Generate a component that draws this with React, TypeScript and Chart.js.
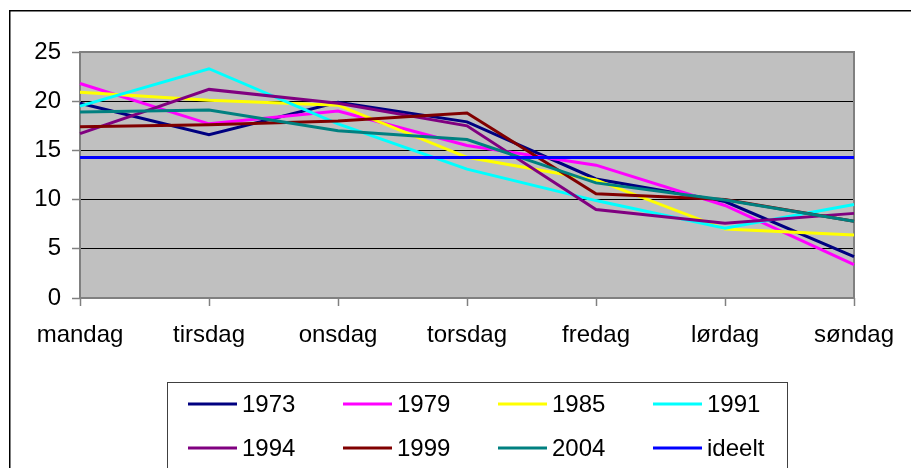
import React, { useEffect, useRef } from "react";
import { Chart, registerables } from "chart.js";

Chart.register(...registerables);

const categories = ["mandag", "tirsdag", "onsdag", "torsdag", "fredag", "lørdag", "søndag"];

const s1973 = [19.8, 16.6, 19.9, 17.9, 12.1, 9.8, 4.2];
const s1979 = [21.8, 17.7, 19.0, 15.5, 13.5, 9.4, 3.4];
const s1985 = [20.9, 20.1, 19.6, 14.3, 12.0, 7.0, 6.4];
const s1991 = [19.5, 23.3, 17.7, 13.1, 9.9, 7.1, 9.5];
const s1994 = [16.7, 21.2, 19.8, 17.5, 9.0, 7.6, 8.6];
const s1999 = [17.4, 17.6, 18.0, 18.8, 10.6, 10.0, 7.8];
const s2004 = [18.9, 19.1, 17.0, 16.1, 11.7, 9.95, 7.8];
const ideelt = [14.29, 14.29, 14.29, 14.29, 14.29, 14.29, 14.29];

const seriesLabels = ["1973", "1979", "1985", "1991", "1994", "1999", "2004", "ideelt"];
const seriesData = [s1973, s1979, s1985, s1991, s1994, s1999, s2004, ideelt];
const seriesColors = ["#000080", "#FF00FF", "#FFFF00", "#00FFFF", "#800080", "#800000", "#008080", "#0000FF"];

const yTicks = { min: 0, max: 25, step: 5 };

const FONT = "'Liberation Sans', Arial, sans-serif";

const framePlugin = {
  id: "framePlugin",
  beforeDraw(chart: any) {
    const { ctx, chartArea } = chart;
    ctx.save();
    ctx.fillStyle = "#FFFFFF";
    ctx.fillRect(0, 0, chart.width, chart.height);
    ctx.fillStyle = "#C0C0C0";
    ctx.fillRect(chartArea.left, chartArea.top, chartArea.right - chartArea.left, chartArea.bottom - chartArea.top);
    ctx.strokeStyle = "#000000";
    ctx.lineWidth = 1.5;
    ctx.beginPath();
    ctx.moveTo(9.75, chart.height);
    ctx.lineTo(9.75, 10.75);
    ctx.lineTo(chart.width, 10.75);
    ctx.stroke();
    ctx.restore();
  },
  beforeDatasetsDraw(chart: any) {
    const { ctx, chartArea } = chart;
    ctx.save();
    ctx.strokeStyle = "#808080";
    ctx.lineWidth = 2;
    ctx.strokeRect(chartArea.left, chartArea.top, chartArea.right - chartArea.left, chartArea.bottom - chartArea.top);
    ctx.restore();
  },
  afterDraw(chart: any) {
    const { ctx } = chart;
    ctx.save();
    ctx.strokeStyle = "#404040";
    ctx.lineWidth = 1;
    ctx.strokeRect(167.5, 382.5, 620, 120);
    ctx.font = `24px ${FONT}`;
    ctx.textBaseline = "middle";
    ctx.textAlign = "left";
    chart.data.datasets.forEach((ds: any, i: number) => {
      const col = i % 4;
      const row = Math.floor(i / 4);
      const x = 188 + col * 155;
      const y = 404 + row * 44;
      ctx.strokeStyle = ds.borderColor;
      ctx.lineWidth = 3;
      ctx.beginPath();
      ctx.moveTo(x, y);
      ctx.lineTo(x + 49, y);
      ctx.stroke();
      ctx.fillStyle = "#000000";
      ctx.fillText(ds.label, x + 54, y + 1);
    });
    ctx.restore();
  },
};

export default function App() {
  const ref = useRef<HTMLCanvasElement | null>(null);
  useEffect(() => {
    if (!ref.current) return;
    const n = seriesLabels.length;
    const chart = new Chart(ref.current, {
      type: "line",
      data: {
        labels: categories,
        datasets: seriesLabels.map((label, i) => ({
          label,
          data: seriesData[i],
          borderColor: seriesColors[i],
          backgroundColor: seriesColors[i],
          borderWidth: 3,
          pointRadius: 0,
          tension: 0,
          fill: false,
          order: n - i,
        })),
      },
      options: {
        responsive: false,
        animation: false,
        layout: { padding: { left: 0, top: 52, right: 57, bottom: 110 } },
        plugins: { legend: { display: false }, tooltip: { enabled: false } },
        scales: {
          x: {
            offset: false,
            afterFit: (scale: any) => {
              scale.height = 60;
            },
            grid: {
              drawOnChartArea: false,
              drawTicks: true,
              tickLength: 8,
              tickColor: "#808080",
              tickWidth: 1.5,
            },
            border: { display: false },
            ticks: {
              color: "#000000",
              font: { family: FONT, size: 24 },
              padding: 15,
              maxRotation: 0,
              autoSkip: false,
            },
          },
          y: {
            min: yTicks.min,
            max: yTicks.max,
            afterFit: (scale: any) => {
              scale.width = 80;
            },
            grid: {
              color: "#000000",
              lineWidth: 1,
              tickLength: 8,
              tickColor: "#808080",
              tickWidth: 1.5,
            },
            border: { display: false },
            ticks: {
              stepSize: yTicks.step,
              color: "#000000",
              font: { family: FONT, size: 24 },
              padding: 11,
            },
          },
        },
      },
      plugins: [framePlugin],
    });
    return () => chart.destroy();
  }, []);
  return (
    <div style={{ position: "absolute", left: 0, top: 0, width: 911, height: 468, background: "#fff" }}>
      <canvas ref={ref} width={911} height={468} />
    </div>
  );
}
